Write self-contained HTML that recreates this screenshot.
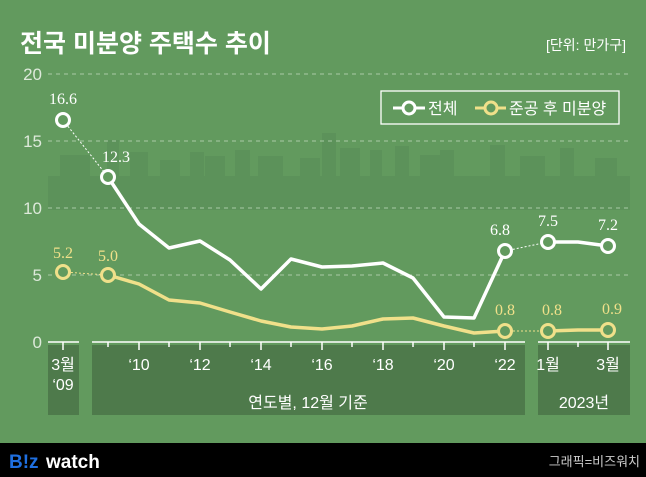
<!DOCTYPE html><html><head><meta charset="utf-8"><style>
body{margin:0;width:646px;height:477px;overflow:hidden;background:#629a5e;font-family:"Liberation Sans","Noto Sans CJK KR",sans-serif}
</style></head><body>
<svg width="646" height="477" xmlns="http://www.w3.org/2000/svg" style="position:absolute;left:0;top:0">
<rect width="646" height="477" fill="#629a5e"/>
<g fill="#5c925a">
<rect x="48" y="176" width="582" height="34"/>
<rect x="60" y="155" width="30" height="25"/><rect x="107" y="140" width="12" height="40"/><rect x="130" y="152" width="18" height="30"/>
<rect x="160" y="160" width="20" height="20"/><rect x="190" y="152" width="14" height="30"/><rect x="205" y="156" width="20" height="25"/>
<rect x="235" y="150" width="15" height="30"/><rect x="258" y="156" width="25" height="25"/><rect x="300" y="158" width="20" height="25"/>
<rect x="322" y="133" width="14" height="50"/><rect x="340" y="148" width="20" height="35"/><rect x="370" y="150" width="12" height="30"/>
<rect x="395" y="146" width="14" height="35"/><rect x="420" y="155" width="20" height="25"/><rect x="440" y="150" width="14" height="30"/>
<rect x="490" y="145" width="15" height="35"/><rect x="520" y="156" width="25" height="25"/><rect x="560" y="148" width="14" height="35"/><rect x="595" y="158" width="22" height="25"/>
</g>
<text x="20" y="52" fill="#fff" font-size="25" font-weight="bold">전국 미분양 주택수 추이</text>
<text x="626" y="50" fill="#fff" font-size="14" text-anchor="end">[단위: 만가구]</text>
<g stroke="#a9c9a5" stroke-dasharray="4,4" stroke-width="1">
<line x1="48" y1="74" x2="630" y2="74"/><line x1="48" y1="141" x2="630" y2="141"/><line x1="48" y1="208" x2="630" y2="208"/><line x1="48" y1="275" x2="630" y2="275"/>
</g>
<g fill="#dde9da" font-size="17" text-anchor="end">
<text x="42" y="80">20</text><text x="42" y="147">15</text><text x="42" y="214">10</text><text x="42" y="281">5</text><text x="42" y="348">0</text>
</g>
<rect x="381" y="91" width="238" height="33" fill="none" stroke="#fff" stroke-width="1.3"/>
<g stroke-width="3" fill="#629a5e"><line x1="393" y1="108" x2="425" y2="108" stroke="#fff"/><circle cx="409" cy="108" r="6" stroke="#fff"/>
<line x1="475" y1="108" x2="506" y2="108" stroke="#f0e08a"/><circle cx="491" cy="108" r="6" stroke="#f0e08a"/></g>
<text x="428" y="114" fill="#fff" font-size="16">전체</text><text x="509" y="114" fill="#fff" font-size="16">준공 후 미분양</text>
<rect x="48" y="345" width="31" height="70" fill="#4e7a4b"/><rect x="92" y="345" width="433" height="70" fill="#4e7a4b"/><rect x="538" y="345" width="92" height="70" fill="#4e7a4b"/>
<g stroke="#fff" stroke-width="1.5"><line x1="48" y1="342" x2="79" y2="342"/><line x1="92" y1="342" x2="525" y2="342"/><line x1="538" y1="342" x2="630" y2="342"/>
<line x1="63" y1="342" x2="63" y2="350"/><line x1="608" y1="342" x2="608" y2="350"/><line x1="548" y1="342" x2="548" y2="350"/><line x1="578" y1="342" x2="578" y2="347"/>
<line x1="108" y1="342" x2="108" y2="347"/><line x1="139" y1="342" x2="139" y2="350"/><line x1="169" y1="342" x2="169" y2="347"/><line x1="200" y1="342" x2="200" y2="350"/><line x1="230" y1="342" x2="230" y2="347"/><line x1="261" y1="342" x2="261" y2="350"/><line x1="291" y1="342" x2="291" y2="347"/><line x1="322" y1="342" x2="322" y2="350"/><line x1="352" y1="342" x2="352" y2="347"/><line x1="383" y1="342" x2="383" y2="350"/><line x1="413" y1="342" x2="413" y2="347"/><line x1="444" y1="342" x2="444" y2="350"/><line x1="474" y1="342" x2="474" y2="347"/><line x1="505" y1="342" x2="505" y2="350"/></g>
<g fill="#fff" font-size="16" text-anchor="middle">
<text x="63" y="370">3월</text><text x="63" y="390">‘09</text>
<text x="139" y="370">‘10</text><text x="200" y="370">‘12</text><text x="261" y="370">‘14</text><text x="322" y="370">‘16</text><text x="383" y="370">‘18</text><text x="444" y="370">‘20</text><text x="505" y="370">‘22</text>
<text x="548" y="370">1월</text><text x="608" y="370">3월</text>
<text x="308" y="408">연도별, 12월 기준</text><text x="584" y="408">2023년</text>
</g>
<g fill="none" stroke-linejoin="round">
<line x1="63" y1="120" x2="108" y2="177" stroke="#fff" stroke-width="1" stroke-dasharray="2,2"/>
<line x1="505" y1="251" x2="548" y2="242" stroke="#fff" stroke-width="1" stroke-dasharray="2,2"/>
<line x1="63" y1="272" x2="108" y2="275" stroke="#f0e08a" stroke-width="1" stroke-dasharray="2,2"/>
<line x1="505" y1="331" x2="548" y2="331" stroke="#f0e08a" stroke-width="1" stroke-dasharray="2,2"/>
<polyline stroke="#fff" stroke-width="3.5" points="108,177 139,224 169,248 200,241 230,260 261,289 291,259 322,267 352,266 383,263 413,278 444,317 474,318 505,251"/>
<polyline stroke="#fff" stroke-width="3.5" points="548,242 578,242 608,246"/>
<polyline stroke="#f0e08a" stroke-width="3.5" points="108,275 139,284 169,300 200,303 230,312 261,321 291,327 322,329 352,326 383,319 413,318 444,326 474,333 505,331"/>
<polyline stroke="#f0e08a" stroke-width="3.5" points="548,331 578,330 608,330"/>
</g>
<g fill="#629a5e" stroke-width="3">
<circle cx="63" cy="120" r="6.5" stroke="#fff"/><circle cx="108" cy="177" r="6.5" stroke="#fff"/><circle cx="505" cy="251" r="6.5" stroke="#fff"/><circle cx="548" cy="242" r="6.5" stroke="#fff"/><circle cx="608" cy="246" r="6.5" stroke="#fff"/>
<circle cx="63" cy="272" r="6.5" stroke="#f0e08a"/><circle cx="108" cy="275" r="6.5" stroke="#f0e08a"/><circle cx="505" cy="331" r="6.5" stroke="#f0e08a"/><circle cx="548" cy="331" r="6.5" stroke="#f0e08a"/><circle cx="608" cy="330" r="6.5" stroke="#f0e08a"/>
</g>
<g font-family="Liberation Serif,serif" font-size="16" text-anchor="middle">
<text x="63" y="104" fill="#fff">16.6</text><text x="116" y="162" fill="#fff">12.3</text><text x="500" y="235" fill="#fff">6.8</text><text x="548" y="226" fill="#fff">7.5</text><text x="608" y="230" fill="#fff">7.2</text>
<text x="63" y="258" fill="#f0e08a">5.2</text><text x="108" y="261" fill="#f0e08a">5.0</text><text x="505" y="315" fill="#f0e08a">0.8</text><text x="552" y="315" fill="#f0e08a">0.8</text><text x="612" y="314" fill="#f0e08a">0.9</text>
</g>
<rect x="0" y="443" width="646" height="34" fill="#000"/>
<text x="9" y="468" font-size="19" font-weight="bold" fill="#1f6fe0">B!z</text><text x="46" y="468" font-size="19" font-weight="bold" fill="#fff">watch</text>
<text x="640" y="466" font-size="13" fill="#ccc" text-anchor="end">그래픽=비즈워치</text>
</svg>
</body></html>
